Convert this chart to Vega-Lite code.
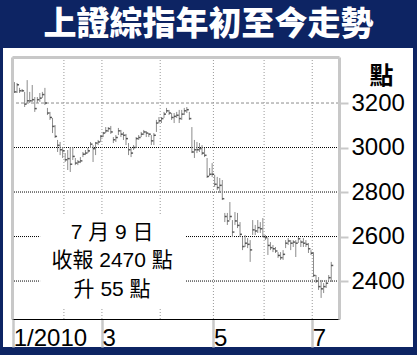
{
  "$schema": "https://vega.github.io/schema/vega-lite/v6.json",
  "width": 327,
  "height": 262,
  "autosize": {"type": "none"},
  "padding": {"left": 12, "top": 57, "right": 78, "bottom": 36},
  "background": "#0d2463",
  "view": {"stroke": null},
  "title": {"text": "上證綜指年初至今走勢", "color": "white", "font": "Noto Sans CJK TC", "fontSize": 33, "fontWeight": 900, "anchor": "middle", "dx": 33, "offset": 6},
  "datasets": {
    "hgrid": [{"v": 2400}, {"v": 2600}, {"v": 2800}, {"v": 3000}, {"v": 3200}],
    "months": [{"i": -0.5}, {"i": 19.5}, {"i": 34.5}, {"i": 57.5}, {"i": 78.5}, {"i": 98.5}, {"i": 117.5}],
    "bars": [{"day":0,"high":3294,"low":3245,"close":3250},
{"day":1,"high":3290,"low":3245,"close":3282},
{"day":2,"high":3268,"low":3245,"close":3255},
{"day":3,"high":3263,"low":3250,"close":3255},
{"day":4,"high":3250,"low":3182,"close":3195},
{"day":5,"high":3303,"low":3200,"close":3210},
{"day":6,"high":3250,"low":3200,"close":3210},
{"day":7,"high":3281,"low":3205,"close":3215},
{"day":8,"high":3227,"low":3160,"close":3175},
{"day":9,"high":3227,"low":3200,"close":3215},
{"day":10,"high":3245,"low":3205,"close":3222},
{"day":11,"high":3250,"low":3223,"close":3238},
{"day":12,"high":3268,"low":3191,"close":3200},
{"day":13,"high":3178,"low":3146,"close":3155},
{"day":14,"high":3160,"low":3124,"close":3135},
{"day":15,"high":3133,"low":3065,"close":3095},
{"day":16,"high":3101,"low":3043,"close":3050},
{"day":17,"high":3034,"low":2980,"close":3010},
{"day":18,"high":3025,"low":2966,"close":2990},
{"day":19,"high":3002,"low":2953,"close":2985},
{"day":20,"high":2975,"low":2935,"close":2945},
{"day":21,"high":2989,"low":2899,"close":2950},
{"day":22,"high":3002,"low":2890,"close":2925},
{"day":23,"high":3002,"low":2944,"close":2960},
{"day":24,"high":2953,"low":2921,"close":2930},
{"day":25,"high":2944,"low":2921,"close":2935},
{"day":26,"high":2957,"low":2930,"close":2940},
{"day":27,"high":2980,"low":2957,"close":2970},
{"day":28,"high":2989,"low":2966,"close":2975},
{"day":29,"high":2998,"low":2975,"close":2985},
{"day":30,"high":3025,"low":2998,"close":3015},
{"day":31,"high":3011,"low":2935,"close":2995},
{"day":32,"high":3025,"low":2966,"close":3020},
{"day":33,"high":3034,"low":3011,"close":3025},
{"day":34,"high":3056,"low":3025,"close":3050},
{"day":35,"high":3070,"low":3047,"close":3065},
{"day":36,"high":3092,"low":3065,"close":3075},
{"day":37,"high":3092,"low":3070,"close":3085},
{"day":38,"high":3097,"low":3061,"close":3070},
{"day":39,"high":3047,"low":3020,"close":3035},
{"day":40,"high":3056,"low":3025,"close":3045},
{"day":41,"high":3088,"low":3056,"close":3075},
{"day":42,"high":3079,"low":3047,"close":3060},
{"day":43,"high":3070,"low":3034,"close":3055},
{"day":44,"high":3061,"low":3011,"close":3040},
{"day":45,"high":3020,"low":2966,"close":2990},
{"day":46,"high":2998,"low":2957,"close":2975},
{"day":47,"high":3011,"low":2989,"close":3000},
{"day":48,"high":3047,"low":2998,"close":3040},
{"day":49,"high":3056,"low":3034,"close":3045},
{"day":50,"high":3070,"low":3047,"close":3060},
{"day":51,"high":3079,"low":3056,"close":3070},
{"day":52,"high":3074,"low":3047,"close":3065},
{"day":53,"high":3065,"low":3047,"close":3060},
{"day":54,"high":3056,"low":3011,"close":3030},
{"day":55,"high":3065,"low":3011,"close":3055},
{"day":56,"high":3124,"low":3070,"close":3110},
{"day":57,"high":3137,"low":3110,"close":3120},
{"day":58,"high":3137,"low":3110,"close":3130},
{"day":59,"high":3160,"low":3133,"close":3150},
{"day":60,"high":3178,"low":3155,"close":3165},
{"day":61,"high":3169,"low":3146,"close":3155},
{"day":62,"high":3155,"low":3124,"close":3135},
{"day":63,"high":3155,"low":3110,"close":3140},
{"day":64,"high":3160,"low":3133,"close":3145},
{"day":65,"high":3169,"low":3110,"close":3130},
{"day":66,"high":3169,"low":3124,"close":3150},
{"day":67,"high":3178,"low":3146,"close":3165},
{"day":68,"high":3182,"low":3155,"close":3170},
{"day":69,"high":3160,"low":3124,"close":3130},
{"day":70,"high":3092,"low":2975,"close":2980},
{"day":71,"high":3034,"low":2953,"close":2990},
{"day":72,"high":3025,"low":2975,"close":2990},
{"day":73,"high":3020,"low":2980,"close":2995},
{"day":74,"high":3011,"low":2966,"close":2975},
{"day":75,"high":2998,"low":2957,"close":2965},
{"day":76,"high":2953,"low":2863,"close":2870},
{"day":77,"high":2908,"low":2872,"close":2880},
{"day":78,"high":2930,"low":2868,"close":2880},
{"day":79,"high":2877,"low":2823,"close":2835},
{"day":80,"high":2868,"low":2809,"close":2820},
{"day":81,"high":2863,"low":2796,"close":2830},
{"day":82,"high":2854,"low":2764,"close":2770},
{"day":83,"high":2706,"low":2665,"close":2690},
{"day":84,"high":2706,"low":2652,"close":2670},
{"day":85,"high":2755,"low":2674,"close":2690},
{"day":86,"high":2674,"low":2598,"close":2620},
{"day":87,"high":2710,"low":2652,"close":2670},
{"day":88,"high":2706,"low":2638,"close":2650},
{"day":89,"high":2665,"low":2598,"close":2610},
{"day":90,"high":2598,"low":2539,"close":2555},
{"day":91,"high":2607,"low":2553,"close":2570},
{"day":92,"high":2593,"low":2548,"close":2565},
{"day":93,"high":2584,"low":2486,"close":2540},
{"day":94,"high":2674,"low":2607,"close":2630},
{"day":95,"high":2652,"low":2607,"close":2625},
{"day":96,"high":2674,"low":2616,"close":2640},
{"day":97,"high":2665,"low":2616,"close":2635},
{"day":98,"high":2683,"low":2598,"close":2600},
{"day":99,"high":2607,"low":2584,"close":2595},
{"day":100,"high":2593,"low":2517,"close":2560},
{"day":101,"high":2575,"low":2539,"close":2550},
{"day":102,"high":2562,"low":2530,"close":2545},
{"day":103,"high":2553,"low":2526,"close":2535},
{"day":104,"high":2530,"low":2504,"close":2515},
{"day":105,"high":2530,"low":2495,"close":2505},
{"day":106,"high":2539,"low":2495,"close":2520},
{"day":107,"high":2584,"low":2548,"close":2570},
{"day":108,"high":2593,"low":2562,"close":2580},
{"day":109,"high":2584,"low":2539,"close":2570},
{"day":110,"high":2584,"low":2553,"close":2575},
{"day":111,"high":2584,"low":2508,"close":2570},
{"day":112,"high":2598,"low":2571,"close":2590},
{"day":113,"high":2584,"low":2553,"close":2575},
{"day":114,"high":2593,"low":2553,"close":2570},
{"day":115,"high":2584,"low":2553,"close":2565},
{"day":116,"high":2571,"low":2526,"close":2545},
{"day":117,"high":2539,"low":2517,"close":2525},
{"day":118,"high":2530,"low":2418,"close":2425},
{"day":119,"high":2427,"low":2391,"close":2400},
{"day":120,"high":2418,"low":2360,"close":2375},
{"day":121,"high":2405,"low":2324,"close":2365},
{"day":122,"high":2391,"low":2346,"close":2375},
{"day":123,"high":2405,"low":2369,"close":2390},
{"day":124,"high":2427,"low":2405,"close":2415},
{"day":125,"high":2486,"low":2396,"close":2470}]
  },
  "resolve": {"axis": {"x": "independent", "y": "independent"}},
  "layer": [
    {
      "data": {"values": [{}]},
      "mark": {"type": "rect", "color": "white"},
      "encoding": {
        "x": {"datum": -4.54, "type": "quantitative", "scale": {"domain": [-0.99, 128.06], "nice": false, "zero": false}, "axis": null},
        "x2": {"datum": 157.26},
        "y": {"datum": 2103.6, "type": "quantitative", "scale": {"domain": [2229.4, 3406.8], "nice": false, "zero": false}, "axis": null},
        "y2": {"datum": 3447}
      }
    },
    {
      "data": {"name": "hgrid"},
      "mark": {"type": "rule", "strokeWidth": 1},
      "encoding": {
        "y": {"field": "v", "type": "quantitative", "axis": {"orient": "left", "labels": false, "ticks": false, "grid": false, "title": null, "domainColor": "#c8c8c8", "domainWidth": 3, "zindex": 1}},
        "color": {"condition": {"test": "datum.v == 3200", "value": "#8c8c8c"}, "value": "#000000"},
        "strokeDash": {"condition": {"test": "datum.v == 3200", "value": [3, 2]}, "value": [1, 1]}
      }
    },
    {
      "data": {"name": "months"},
      "mark": {"type": "rule", "color": "#999999", "strokeDash": [1, 2], "strokeWidth": 1},
      "encoding": {
        "x": {"field": "i", "type": "quantitative", "axis": {"orient": "top", "labels": false, "ticks": false, "grid": false, "title": null, "domainColor": "#c8c8c8", "domainWidth": 3, "zindex": 1}}
      }
    },
    {
      "data": {"name": "bars"},
      "mark": {"type": "rule", "color": "#8c8c8c", "strokeWidth": 1},
      "encoding": {
        "x": {"field": "day", "type": "quantitative", "axis": {"orient": "bottom", "values": [-0.5, 34.5, 78.5, 117.5], "labelExpr": "datum.value < 0 ? '1/2010' : datum.value < 50 ? '3' : datum.value < 100 ? '5' : '7'", "title": null, "grid": false, "domainColor": "#000000", "domainWidth": 1, "tickColor": "#c8c8c8", "tickWidth": 2.5, "tickSize": 28, "labelFont": "Liberation Sans", "labelFontSize": 24, "labelColor": "#000000", "labelAlign": "left", "labelBaseline": "alphabetic", "labelPadding": -2, "labelDx": 2, "labelOverlap": false, "labelFlush": false, "labelBound": false, "zindex": 1}},
        "y": {"field": "low", "type": "quantitative", "axis": {"orient": "right", "values": [2400, 2600, 2800, 3000, 3200], "format": "d", "grid": false, "domainColor": "#c8c8c8", "domainWidth": 3, "tickColor": "#c8c8c8", "tickWidth": 2, "tickSize": 9, "labelPadding": 3, "labelFont": "Liberation Sans", "labelFontSize": 24, "labelColor": "#000000", "labelBaseline": "middle", "labelOverlap": false, "labelFlush": false, "labelBound": false, "title": "點", "titleAngle": 0, "titleX": 42, "titleY": 19, "titleAlign": "center", "titleBaseline": "middle", "titleFont": "Noto Sans CJK TC", "titleFontSize": 24, "titleFontWeight": "bold", "titleColor": "#000000", "zindex": 1}},
        "y2": {"field": "high"}
      }
    },
    {
      "data": {"name": "bars"},
      "mark": {"type": "tick", "orient": "horizontal", "color": "#1a1a1a", "size": 2, "thickness": 1.5, "xOffset": 1},
      "encoding": {
        "x": {"field": "day", "type": "quantitative", "axis": null},
        "y": {"field": "close", "type": "quantitative", "axis": null}
      }
    },
    {
      "data": {"values": [{}]},
      "mark": {"type": "rect", "color": "white"},
      "encoding": {
        "x": {"datum": 10.1, "type": "quantitative", "axis": null},
        "x2": {"datum": 67.3},
        "y": {"datum": 2283, "type": "quantitative", "axis": null},
        "y2": {"datum": 2697}
      }
    },
    {
      "data": {"values": [{"label": "7 月 9 日\n收報 2470 點\n升 55 點"}]},
      "mark": {"type": "text", "lineBreak": "\n", "lineHeight": 28.5, "fontSize": 21, "font": "Liberation Sans, Noto Sans CJK TC", "color": "#000000", "baseline": "middle", "align": "center"},
      "encoding": {
        "x": {"datum": 38.5, "type": "quantitative", "axis": null},
        "y": {"datum": 2616, "type": "quantitative", "axis": null},
        "text": {"field": "label"}
      }
    }
  ]
}
